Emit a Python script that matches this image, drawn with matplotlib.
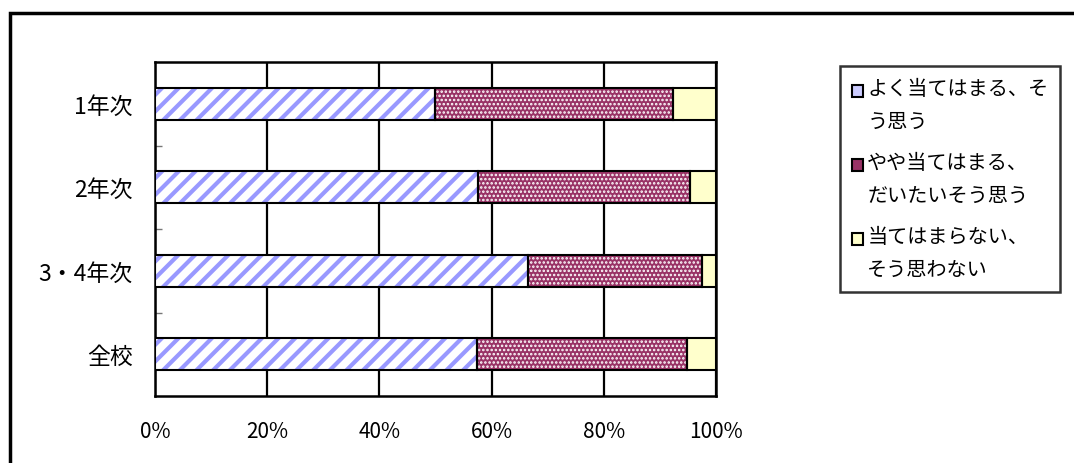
import matplotlib
matplotlib.use("Agg")
import matplotlib.pyplot as plt
from matplotlib.patches import Patch, Rectangle
from matplotlib.legend_handler import HandlerPatch
import numpy as np

plt.rcParams['font.family'] = ['Noto Sans CJK JP', 'DejaVu Sans']
plt.rcParams['hatch.linewidth'] = 3.0

categories = ["1年次", "2年次", "3・4年次", "全校"]
series_names = ["よく当てはまる、そ\nう思う", "やや当てはまる、\nだいたいそう思う", "当てはまらない、\nそう思わない"]
strong = [49.9, 57.6, 66.5, 57.4]
some = [42.4, 37.8, 31.0, 37.4]
not_at_all = [7.7, 4.6, 2.5, 5.2]

faces = ["white", "#993366", "#ffffcc"]
hatch_colors = ["#9999ff", "white", None]
hatches = ["//", "....", None]

fig = plt.figure(figsize=(10.74, 4.64), dpi=100)
ax = fig.add_axes([155 / 1074, 67 / 464, 561 / 1074, 334 / 464])

y = np.arange(len(categories))
left = np.zeros(len(categories))
for vals, fc, hc, h in zip([strong, some, not_at_all], faces, hatch_colors, hatches):
    vals = np.array(vals)
    if h == "....":
        with plt.rc_context({'hatch.linewidth': 1.2}):
            ax.barh(y, vals, left=left, height=0.38, color=fc, edgecolor=hc,
                    hatch=h, linewidth=0, zorder=3)
    elif h:
        ax.barh(y, vals, left=left, height=0.38, color=fc, edgecolor=hc,
                hatch=h, linewidth=0, zorder=3)
    else:
        ax.barh(y, vals, left=left, height=0.38, color=fc, linewidth=0, zorder=3)
    ax.barh(y, vals, left=left, height=0.38, fill=False, edgecolor="black",
            linewidth=1.5, zorder=4)
    left += vals

ax.set_xlim(0, 100)
ax.set_ylim(3.5, -0.5)
ax.set_xticks([0, 20, 40, 60, 80, 100])
ax.set_xticklabels(["0%", "20%", "40%", "60%", "80%", "100%"])
ax.set_yticks(y)
ax.set_yticklabels(categories)
ax.set_yticks([0.5, 1.5, 2.5], minor=True)
ax.tick_params(axis="x", length=0, pad=17, labelsize=15)
ax.tick_params(axis="y", which="major", length=0, pad=16, labelsize=16.5)
ax.tick_params(axis="y", which="minor", direction="in", length=5, color="#777777", width=1)
ax.xaxis.grid(True, color="black", linewidth=1.6, zorder=1)
ax.set_axisbelow(True)
for s in ax.spines.values():
    s.set_linewidth(1.8)


# put the legend square beside the first line of each two-line label
def first_line_square(legend, orig_handle, xdescent, ydescent, width, height, fontsize):
    return Rectangle((-xdescent, -ydescent + 11), width, height)


handles = [Patch(facecolor=fc, edgecolor="black", linewidth=1.5)
           for fc in ["#ccccff", "#993366", "#ffffcc"]]
leg = fig.legend(handles, series_names, loc="upper left",
                 bbox_to_anchor=(840 / 1074, 1 - 67 / 464),
                 fontsize=14.5, frameon=True, fancybox=False,
                 handlelength=0.55, handleheight=0.55, handletextpad=0.2,
                 labelspacing=1.0, borderpad=0.6, borderaxespad=0,
                 handler_map={Patch: HandlerPatch(patch_func=first_line_square)})
for t in leg.get_texts():
    t.set_linespacing(1.75)
leg.get_frame().set_edgecolor("black")
leg.get_frame().set_linewidth(1.8)

fig.add_artist(Rectangle((10 / 1074, -0.1), 1.2, 1 - 14 / 464 + 0.1,
                         transform=fig.transFigure, fill=False,
                         edgecolor="black", linewidth=2.5))

fig.savefig("out.png", dpi=100, facecolor="white")
